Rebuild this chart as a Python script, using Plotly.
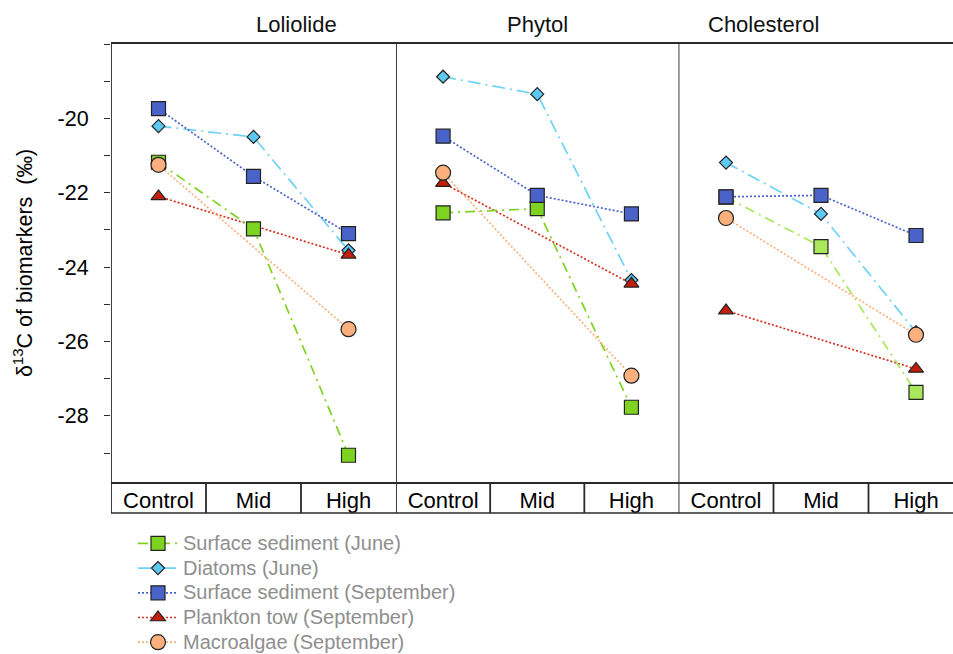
import plotly.graph_objects as go

panels = ["Loliolide", "Phytol", "Cholesterol"]
categories = ["Control", "Mid", "High"]

series_names = [
    "Surface sediment (June)",
    "Diatoms (June)",
    "Surface sediment (September)",
    "Plankton tow (September)",
    "Macroalgae (September)",
]

# values per panel: [Control, Mid, High]
surface_june = {
    "Loliolide": [-21.18, -22.97, -29.06],
    "Phytol": [-22.54, -22.43, -27.77],
    "Cholesterol": [-22.12, -23.45, -27.37],
}
diatoms_june = {
    "Loliolide": [-20.21, -20.50, -23.55],
    "Phytol": [-18.88, -19.35, -24.35],
    "Cholesterol": [-21.19, -22.57, -25.75],
}
surface_sept = {
    "Loliolide": [-19.74, -21.56, -23.10],
    "Phytol": [-20.48, -22.07, -22.57],
    "Cholesterol": [-22.11, -22.07, -23.15],
}
plankton_sept = {
    "Loliolide": [-22.10, None, -23.67],
    "Phytol": [-21.74, None, -24.45],
    "Cholesterol": [-25.17, None, -26.74],
}
macroalgae_sept = {
    "Loliolide": [-21.25, None, -25.67],
    "Phytol": [-21.46, None, -26.92],
    "Cholesterol": [-22.68, None, -25.82],
}

y_tickvals = [-20, -22, -24, -26, -28]
y_ticktext = ["-20", "-22", "-24", "-26", "-28"]

styles = {
    "Surface sediment (June)": dict(data=surface_june, rank=1, symbol="square", size=14,
                                    color="#7ED321", line="#7ED321", dash="10px,5px,2px,5px"),
    "Diatoms (June)": dict(data=diatoms_june, rank=2, symbol="diamond", size=10,
                           color="#5CC9F2", line="#6CD2F6", dash="13px,5px,2px,5px"),
    "Surface sediment (September)": dict(data=surface_sept, rank=3, symbol="square", size=14,
                                         color="#4A63C9", line="#4A63C9", dash="2px,2px"),
    "Plankton tow (September)": dict(data=plankton_sept, rank=4, symbol="triangle-up", size=13,
                                     color="#C41E0A", line="#D3301F", dash="2px,2px"),
    "Macroalgae (September)": dict(data=macroalgae_sept, rank=5, symbol="circle", size=15,
                                   color="#FDB07E", line="#FDB07E", dash="2px,2px"),
}
draw_order = ["Diatoms (June)", "Plankton tow (September)", "Surface sediment (June)",
              "Surface sediment (September)", "Macroalgae (September)"]
chol_green = "#A8E85A"
legend_text_px = 20

fig = go.Figure()
axis_ids = ["x", "x2", "x3"]
for name in draw_order:
    st = styles[name]
    for pi, panel in enumerate(panels):
        mcol = st["color"]
        lcol = st["line"]
        if name == "Surface sediment (June)" and panel == "Cholesterol":
            mcol = chol_green
            lcol = chol_green
        fig.add_trace(go.Scatter(
            x=categories, y=st["data"][panel],
            xaxis=axis_ids[pi], yaxis="y",
            mode="lines+markers", connectgaps=True,
            name=f"<span style='font-size:{legend_text_px}px'>{name}</span>",
            legendgroup=name, showlegend=(pi == 0), legendrank=st["rank"],
            line=dict(color=lcol, width=1.7, dash=st["dash"]),
            marker=dict(symbol=st["symbol"], size=st["size"], color=mcol,
                        line=dict(color="#222222", width=1.2)),
        ))

L, T, B = 111, 44, 172
W = 953 - L
H = 654 - T - B
edges_px = [L, 396, 678.5, 953]
doms = [[(edges_px[i] - L) / W, (edges_px[i + 1] - L) / W] for i in range(3)]
full_w = 285.0
ranges = [[-0.5, 2.5], [-0.5, 2.5], [-0.5, -0.5 + 3 * (953 - 678.5) / full_w]]

frame = "#2A2A2A"
font_fam = "Liberation Sans, Arial, sans-serif"
layout = dict(
    width=953, height=654,
    margin=dict(l=L, r=0, t=T, b=B, autoexpand=False),
    plot_bgcolor="white", paper_bgcolor="white",
    font=dict(family=font_fam, size=21.5, color="black"),
    showlegend=True,
    legend=dict(x=(133 - L) / W, y=-(526 - (T + H)) / H, xanchor="left", yanchor="top",
                font=dict(size=16.7, color="#8E8E8E"), tracegroupgap=0,
                bgcolor="rgba(0,0,0,0)", itemwidth=40),
    yaxis=dict(range=[-29.78, -18], tickvals=y_tickvals, ticktext=y_ticktext,
               ticks="outside", ticklen=6, tickcolor=frame, tickwidth=1.3,
               minor=dict(ticks="outside", ticklen=6, dtick=1, tick0=-19,
                          tickcolor=frame, tickwidth=1.3, showgrid=False),
               showgrid=False, zeroline=False, showline=False,
               anchor="x", automargin=False,
               ticklabelstandoff=11, tickfont=dict(size=21.5),
               title=dict(text="δ<sup>13</sup>C of biomarkers  (‰)",
                          font=dict(size=21.5), standoff=19)),
)
for i in range(3):
    key = "xaxis" if i == 0 else f"xaxis{i + 1}"
    layout[key] = dict(domain=doms[i], range=ranges[i], anchor="y", automargin=False,
                       type="category", categoryorder="array", categoryarray=categories,
                       showgrid=False, zeroline=False, showline=True, linecolor=frame,
                       linewidth=1.7, mirror=True, ticks="",
                       tickfont=dict(size=22), ticklabelstandoff=-2)
fig.update_layout(**layout)

box_bottom = -(513 - (T + H)) / H
shapes = []
shapes.append(dict(type="line", xref="paper", yref="paper", x0=0, x1=1,
                   y0=box_bottom, y1=box_bottom, line=dict(color=frame, width=1.7)))
for i in range(3):
    xr = axis_ids[i]
    for b in [-0.5, 0.5, 1.5]:
        shapes.append(dict(type="line", xref=xr, yref="paper", x0=b, x1=b,
                           y0=box_bottom, y1=1 if b == -0.5 else 0,
                           line=dict(color=frame, width=1.8)))
fig.update_layout(shapes=shapes)

for i, panel in enumerate(panels):
    cx = (doms[i][0] + doms[i][1]) / 2 if i < 2 else doms[i][0] + (full_w / W) / 2
    fig.add_annotation(text=panel, xref="paper", yref="paper",
                       x=cx, y=1, yshift=20, yanchor="middle", showarrow=False,
                       font=dict(size=22, color="#111111"))

fig.write_html("out.html", config={"displayModeBar": False},
               post_script="document.body.style.margin='0';")
